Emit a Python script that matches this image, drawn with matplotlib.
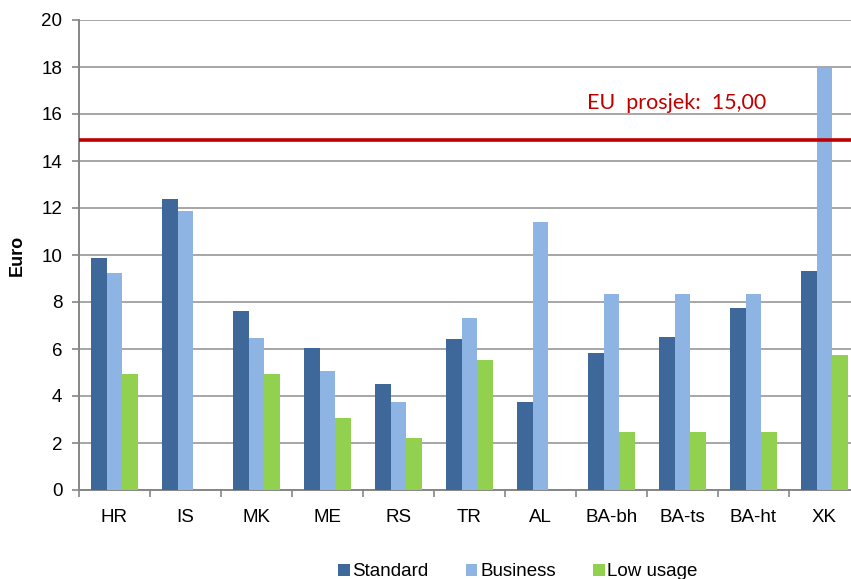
import matplotlib
matplotlib.use("Agg")
import matplotlib.pyplot as plt
import numpy as np
from matplotlib.patches import Patch

categories = ["HR", "IS", "MK", "ME", "RS", "TR", "AL", "BA-bh", "BA-ts", "BA-ht", "XK"]
standard = [9.88, 12.40, 7.63, 6.04, 4.50, 6.41, 3.76, 5.84, 6.52, 7.74, 9.33]
business = [9.22, 11.89, 6.45, 5.08, 3.73, 7.32, 11.42, 8.35, 8.35, 8.35, 17.94]
low_usage = [4.92, 0, 4.92, 3.06, 2.21, 5.53, 0, 2.47, 2.47, 2.47, 5.76]
series_names = ["Standard", "Business", "Low usage"]
eu_avg = 14.9
eu_label = "EU  prosjek:  15,00"
yticks = [0, 2, 4, 6, 8, 10, 12, 14, 16, 18, 20]

colors = ["#3E6899", "#8EB4E3", "#92D050"]

plt.rcParams['font.family'] = ['Liberation Sans', 'DejaVu Sans']

W, H = 851, 579
fig = plt.figure(figsize=(W / 100, H / 100), dpi=100)
ax = fig.add_axes([79 / W, (H - 490) / H, 781 / W, 470 / H])

x = np.arange(len(categories))
bw = 0.221
for i, (vals, c) in enumerate(zip([standard, business, low_usage], colors)):
    ax.bar(x + (i - 1) * bw, vals, width=bw, color=c, zorder=3, linewidth=0)

ax.axhline(eu_avg, color="#C00000", linewidth=2.6, zorder=4)
ax.text(6.65, 16.45, eu_label, color="#C00000", fontsize=15.5, family=["Lato", "DejaVu Sans"],
        ha="left", va="center", zorder=5)

ax.set_xlim(-0.5, 10.5)
ax.set_ylim(0, 20)
ax.set_yticks(yticks)
ax.yaxis.grid(True, color="#A6A6A6", linewidth=1.4, zorder=0)
ax.set_axisbelow(True)

ax.set_xticks(x)
ax.set_xticklabels(categories)
ax.set_xticks(np.arange(-0.5, 10.6, 1), minor=True)
ax.tick_params(axis="x", which="major", length=0, pad=14, labelsize=13.5, colors="black")
ax.tick_params(axis="x", which="minor", length=5, width=1.2, color="#868686", direction="out")
ax.tick_params(axis="y", which="major", length=5, width=1.2, color="#868686", pad=7,
               labelsize=13.5, labelcolor="black")

for s in ["top", "right"]:
    ax.spines[s].set_visible(False)
for s in ["left", "bottom"]:
    ax.spines[s].set_color("#868686")
    ax.spines[s].set_linewidth(1.4)

fig.text(17 / W, 1 - 255 / H, "Euro", rotation=90, ha="center", va="center",
         fontsize=13, fontweight="bold")

handles = [Patch(facecolor=c, edgecolor="none") for c in colors]
fig.legend(handles, series_names, loc="center", bbox_to_anchor=(518 / W, 1 - 572 / H),
           ncol=3, frameon=False, fontsize=13.5, handlelength=0.6, handleheight=0.6,
           handletextpad=0.15, columnspacing=2.0, borderaxespad=0)

fig.savefig("out.png", dpi=100)
